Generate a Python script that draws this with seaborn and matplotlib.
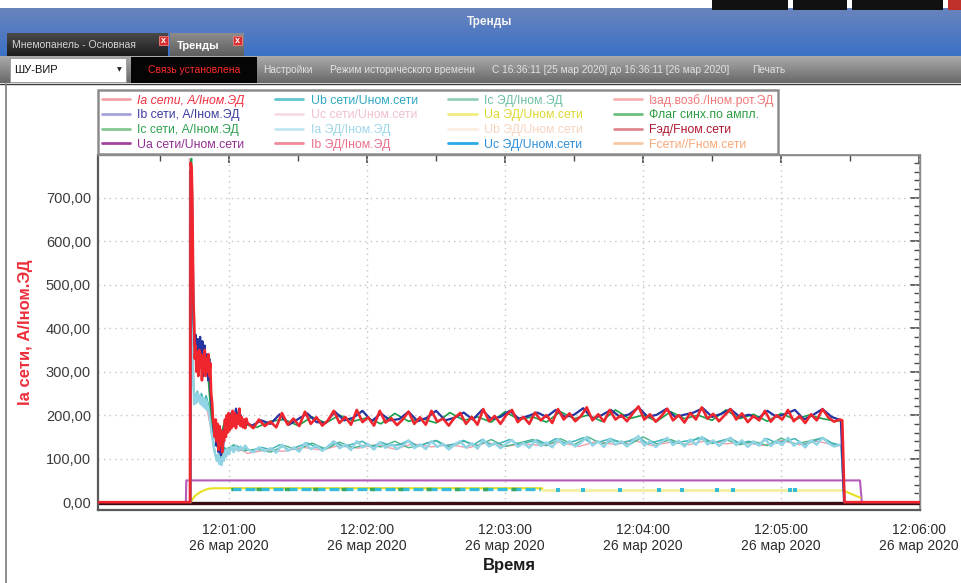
import datetime as dt
import numpy as np
import pandas as pd
import matplotlib
matplotlib.use("Agg")
import matplotlib.pyplot as plt
import matplotlib.colors as mcolors
from matplotlib.lines import Line2D
from matplotlib.patches import Rectangle
from matplotlib.ticker import MultipleLocator, FuncFormatter
import seaborn as sns


# ---------------------------------------------------------------------
# Data (time in seconds after 12:00:00, 26 Mar 2020)
# ---------------------------------------------------------------------
TREND_START = dt.datetime(2020, 3, 26, 12, 0, 0)
MONTHS_RU = ["янв", "фев", "мар", "апр", "мая", "июн",
             "июл", "авг", "сен", "окт", "ноя", "дек"]

# sample grids used by the recorder for the steady part of the run
GRID_A_START, GRID_A_STEP = 68.0, 2.5
GRID_B_START, GRID_B_STEP = 66.0, 4.0
GRID_C_START, GRID_C_STEP = 66.0, 6.0
GRID_D_START, GRID_D_STEP = 68.0, 8.0

# Ia сети (red) -------------------------------------------------------
IA_NET_RISE = [(3.0, 0), (43.1, 0), (43.3, 780), (43.7, 770), (44.0, 700), (44.3, 560),
               (44.5, 460), (44.8, 420), (45.1, 330), (45.4, 360), (45.8, 300), (46.2, 345),
               (46.6, 290), (47.0, 350), (47.4, 310), (47.8, 340), (48.2, 280), (48.6, 335),
               (49.0, 300), (49.4, 350), (49.8, 290), (50.2, 330), (50.6, 300), (51.0, 340),
               (51.4, 290), (51.8, 320), (52.2, 250), (52.6, 230), (53.0, 190), (53.4, 175),
               (53.8, 150), (54.2, 190), (54.6, 140), (55.0, 180), (55.4, 120), (55.8, 175),
               (56.2, 130), (56.6, 165), (57.0, 115), (57.4, 160), (57.8, 140), (58.2, 190),
               (58.6, 150), (59.0, 200), (59.4, 160), (59.8, 205), (60.2, 165), (60.6, 200),
               (61.0, 170), (61.5, 210), (62.0, 175), (62.5, 205), (63.0, 170), (63.5, 200),
               (64.0, 180), (64.5, 215), (65.0, 175), (65.5, 195), (66.0, 172), (66.5, 190),
               (67.0, 170), (67.5, 192)]
IA_NET_PLAT = [182, 170, 190, 175, 185, 172, 205, 178, 192, 175,
               208, 180, 195, 176, 188, 210, 182, 196, 178, 212,
               184, 195, 176, 210, 183, 193, 177, 190, 208, 180,
               195, 178, 210, 185, 192, 176, 194, 205, 180, 196,
               178, 214, 186, 198, 180, 200, 212, 184, 196, 180,
               206, 188, 200, 182, 214, 190, 204, 186, 198, 218,
               188, 202, 185, 212, 190, 200, 186, 204, 220, 190,
               202, 185, 198, 215, 188, 200, 183, 205, 190, 218,
               192, 203, 186, 200, 214, 190, 204, 184, 198, 188,
               210, 185, 200, 190, 212, 186, 198, 182, 202, 188,
               214, 195, 185, 190]
IA_NET_END = [(326.6, 188), (327.6, 0), (360.5, 0)]

# Ib сети (dark blue) -------------------------------------------------
IB_NET_RISE = [(43.1, 0), (43.3, 760), (43.8, 740), (44.2, 560), (44.6, 420), (45.0, 360),
               (45.4, 385), (45.9, 320), (46.4, 375), (46.9, 300), (47.4, 380), (47.9, 320),
               (48.4, 370), (48.9, 290), (49.4, 360), (49.9, 300), (50.4, 340), (50.9, 280),
               (51.4, 330), (51.9, 260), (52.4, 220), (52.9, 200), (53.4, 160), (53.9, 180),
               (54.4, 130), (54.9, 160), (55.4, 115), (55.9, 150), (56.4, 108), (56.9, 140),
               (57.4, 125), (57.9, 170), (58.5, 150), (59.2, 195), (60.0, 170), (61.0, 205),
               (62.0, 180), (63.0, 215), (64.0, 185), (65.0, 200)]
IB_NET_PLAT = [186, 176, 188, 180, 202, 178, 191, 204, 184, 182,
               208, 188, 194, 210, 186, 204, 188, 191, 208, 186,
               194, 210, 188, 194, 206, 190, 212, 191, 196, 210,
               192, 198, 206, 196, 212, 196, 201, 216, 192, 200,
               212, 196, 202, 218, 196, 201, 214, 196, 201, 206,
               216, 196, 203, 214, 196, 201, 192, 210, 196, 203,
               212, 190, 201, 214, 196, 188]
IB_NET_END = [(327.4, 0)]

# Ic сети (green) -----------------------------------------------------
IC_NET_RISE = [(43.1, 0), (43.3, 785), (43.7, 790), (44.2, 480), (44.7, 380), (45.3, 330),
               (46.0, 350), (47.0, 310), (48.0, 345), (49.0, 300), (50.0, 330), (51.0, 280),
               (52.0, 210), (53.0, 170), (54.0, 150), (55.0, 125), (56.0, 140), (57.0, 165),
               (58.0, 185), (59.0, 175), (60.0, 200), (62.0, 190), (64.0, 205)]
IC_NET_PLAT = [180, 172, 186, 190, 176, 196, 182, 200, 186, 194,
               180, 204, 186, 192, 182, 206, 188, 196, 184, 208,
               190, 196, 184, 208, 192, 200, 186, 212, 192, 200,
               186, 208, 192, 200, 188, 212, 192, 202, 186, 204,
               190, 200, 192, 186]
IC_NET_END = [(326.5, 188), (327.4, 0)]

# Ia ЭД (light cyan) --------------------------------------------------
IA_ED_RISE = [(43.2, 0), (43.4, 455), (43.9, 440), (44.3, 300), (44.8, 225), (45.2, 245),
              (45.7, 228), (46.2, 250), (46.7, 232), (47.2, 245), (47.7, 225), (48.2, 240),
              (48.7, 220), (49.2, 238), (49.7, 215), (50.2, 232), (50.7, 210), (51.2, 220),
              (51.7, 190), (52.2, 170), (52.7, 150), (53.2, 130), (53.7, 115), (54.2, 105),
              (54.7, 95), (55.2, 110), (55.7, 88), (56.2, 100), (56.7, 85), (57.2, 105),
              (57.7, 95), (58.2, 115), (58.7, 105), (59.2, 122), (60.0, 110), (61.0, 128),
              (62.0, 115), (63.0, 130), (64.0, 118), (65.0, 128), (66.0, 120), (67.0, 130)]
IA_ED_PLAT = [122, 115, 126, 117, 124, 114, 132, 118, 126, 116,
              136, 122, 130, 118, 128, 140, 124, 132, 120, 140,
              126, 133, 121, 138, 125, 134, 122, 130, 142, 124,
              133, 122, 140, 127, 134, 121, 132, 140, 125, 135,
              123, 144, 128, 136, 124, 134, 143, 127, 136, 125,
              141, 129, 137, 126, 145, 131, 140, 128, 137, 150,
              130, 140, 127, 146, 132, 140, 128, 141, 152, 130,
              140, 127, 138, 148, 131, 141, 128, 144, 132, 150,
              133, 142, 129, 140, 148, 131, 142, 127, 139, 130,
              146, 129, 140, 131, 148, 130, 139, 126, 142, 132,
              148, 136, 128, 132]
IA_ED_END = [(326.6, 130), (327.6, 0)]

# Ub сети (teal) ------------------------------------------------------
UB_NET_RISE = [(43.2, 0), (43.4, 450), (44.0, 420), (44.6, 260), (45.3, 240), (46.2, 255),
               (47.1, 238), (48.0, 250), (49.0, 230), (50.0, 245), (51.0, 225), (52.0, 180),
               (53.0, 140), (54.0, 110), (55.0, 105), (56.0, 95), (57.0, 112), (58.0, 125),
               (60.0, 118), (62.0, 130), (64.0, 125)]
UB_NET_PLAT = [124, 118, 126, 121, 132, 120, 128, 136, 126, 123,
               138, 128, 134, 140, 126, 138, 130, 132, 142, 128,
               136, 141, 129, 134, 142, 131, 144, 131, 136, 144,
               132, 138, 143, 134, 146, 136, 140, 148, 133, 140,
               146, 136, 141, 150, 134, 140, 146, 135, 140, 143,
               149, 136, 141, 147, 135, 140, 132, 146, 136, 141,
               146, 132, 140, 148, 136, 131]
UB_NET_END = [(327.4, 0)]

# Ic ЭД (sea green) ---------------------------------------------------
IC_ED_RISE = [(43.3, 0), (43.5, 440), (44.3, 280), (45.2, 240), (47.0, 245), (49.0, 235),
              (51.0, 225), (52.2, 175), (54.0, 108), (56.0, 100), (58.0, 122), (60.0, 125),
              (62.0, 132), (64.0, 128)]
IC_ED_PLAT = [118, 122, 115, 130, 120, 136, 122, 138, 125, 132,
              127, 140, 125, 132, 142, 126, 140, 130, 144, 128,
              136, 144, 130, 146, 132, 150, 134, 142, 132, 150,
              134, 144, 132, 148, 135, 144, 132, 140, 130, 147,
              134, 140, 148, 130]
IC_ED_END = [(326.5, 132), (327.4, 0)]

# Ib ЭД (pink) --------------------------------------------------------
IB_ED_RISE = [(42.6, 0), (42.8, 790), (43.4, 600), (44.0, 450), (44.7, 250), (46.0, 240),
              (48.0, 230), (50.0, 225), (52.0, 170), (54.0, 110), (56.0, 100), (58.0, 115),
              (60.0, 120), (62.0, 124), (64.0, 118), (66.0, 120)]
IB_ED_PLAT = [112, 120, 117, 126, 120, 130, 124, 132, 122, 134,
              127, 132, 125, 137, 128, 134, 130, 138, 128, 140,
              132, 142, 130, 138, 132, 142, 134, 138, 130, 142,
              132, 140, 130]
IB_ED_END = [(326.6, 130), (327.5, 0)]

# voltages / flags ----------------------------------------------------
UA_NET = [(41.2, 0), (41.4, 50), (334.3, 50), (335.1, 0), (360.5, 0)]
UA_ED = [(43.4, 0), (44.0, 6), (44.8, 12), (46.0, 18), (47.5, 23), (49.0, 27), (50.5, 30),
         (52.0, 31.5), (54.0, 32), (196.0, 32), (196.5, 27), (327.0, 27), (334.5, 10)]
UB_ED = [(196.5, 27), (327.0, 27)]
UC_ED = [(61.0, 31), (195.0, 31)]
UC_ED_DOTS_T = [203, 214, 230, 247, 257, 272, 279, 304, 306]
UC_ED_DOTS_V = [27, 27, 27, 27, 27, 27, 27, 27, 27]
SYNC_FLAG = [(61.0, 31), (195.0, 31)]
F_ED = [(3.0, -2), (360.5, -2)]

# legend (column by column, as in the panel) --------------------------
LEGEND_LABELS = ["Ia сети, А/Iном.ЭД", "Ib сети, А/Iном.ЭД", "Ic сети, А/Iном.ЭД",
                 "Ua сети/Uном.сети", "Ub сети/Uном.сети", "Uc сети/Uном.сети",
                 "Ia ЭД/Iном.ЭД", "Ib ЭД/Iном.ЭД", "Ic ЭД/Iном.ЭД", "Ua ЭД/Uном.сети",
                 "Ub ЭД/Uном.сети", "Uc ЭД/Uном.сети", "Iзад.возб./Iном.рот.ЭД",
                 "Флаг синх.по ампл.", "Fэд/Fном.сети", "Fсети//Fном.сети"]
LEGEND_LINE_COLORS = ["#f4a4aa", "#a4a4d8", "#84c894", "#a044a0", "#62c6d0", "#f8dce2",
                      "#c4e8f0", "#f08a9a", "#92d0b8", "#f0ee80", "#fcefe2", "#2aa8e8",
                      "#f8b2b2", "#70c080", "#e08890", "#f8c8a2"]
LEGEND_TEXT_COLORS = ["#f03040", "#3c3ca0", "#2fa050", "#902e90", "#2ea8c0", "#f0c0cc",
                      "#9ed6e8", "#e87088", "#6cc0a0", "#dcd830", "#f8d4c0", "#2f8ed8",
                      "#f07878", "#2c9c40", "#b01830", "#f8a878"]


# ---------------------------------------------------------------------
# Helpers
# ---------------------------------------------------------------------
W, H = 961, 583


def build_series(rise, plat, start, step, end):
    t = [p[0] for p in rise] + [start + step * i for i in range(len(plat))] + [p[0] for p in end]
    v = [p[1] for p in rise] + list(plat) + [p[1] for p in end]
    return t, v


def draw_series(ax, t, v, color, lw, z, **kw):
    df = pd.DataFrame({"t": t, "v": v})
    sns.lineplot(data=df, x="t", y="v", ax=ax, color=color, linewidth=lw,
                 estimator=None, legend=False, zorder=z, **kw)


def draw_pairs(ax, pairs, color, lw, z, **kw):
    draw_series(ax, [p[0] for p in pairs], [p[1] for p in pairs], color, lw, z, **kw)


def time_label(x, pos):
    stamp = TREND_START + dt.timedelta(seconds=float(x))
    return f"{stamp:%H:%M:%S}\n{stamp.day} {MONTHS_RU[stamp.month - 1]} {stamp.year}"


def value_label(y, pos):
    return f"{y:.2f}".replace(".", ",")


# ---------------------------------------------------------------------
# Window chrome (title bar, tabs, toolbar)
# ---------------------------------------------------------------------
def draw_window_chrome(fig):
    ui = fig.add_axes([0, 0, 1, 1], zorder=0)

    def grad(x0, x1, y0, y1, top, bottom):
        c0 = np.array(mcolors.to_rgb(top))
        c1 = np.array(mcolors.to_rgb(bottom))
        k = np.linspace(0, 1, 64)[:, None, None]
        img = c0 + (c1 - c0) * k
        ui.imshow(img, extent=[x0, x1, y1, y0], aspect="auto", interpolation="bilinear", zorder=1)

    def close_btn(x, y):
        ui.add_patch(Rectangle((x, y), 9, 9, fc="#d83030", ec="#f08080", lw=0.6, zorder=3))
        ui.text(x + 4.5, y + 4.3, "x", color="white", fontsize=6.5, fontweight="bold",
                ha="center", va="center", zorder=4)

    grad(0, W, 8, 56, "#6a84bd", "#3b71c6")
    for x0, w in [(712, 76), (793, 54), (852, 91)]:
        ui.add_patch(Rectangle((x0, 0), w, 10, fc="#111111", ec="none", zorder=2))
    ui.add_patch(Rectangle((948, 0), 13, 10, fc="#c0302a", ec="none", zorder=2))
    ui.text(490, 22, "Тренды", color="#f4f4f4", fontsize=8.5, fontweight="bold",
            ha="center", va="center", zorder=3)

    # tabs
    grad(7, 168, 33, 56, "#4a4a4a", "#1c1c1c")
    ui.text(12, 45, "Мнемопанель - Основная", color="#d4d4d4", fontsize=7.5,
            ha="left", va="center", zorder=3)
    close_btn(159, 36)
    grad(170, 244, 33, 56, "#8c8c8c", "#5e5e5e")
    ui.text(177, 46, "Тренды", color="white", fontsize=8, fontweight="bold",
            ha="left", va="center", zorder=3)
    close_btn(233, 36)

    # toolbar
    grad(0, W, 56, 83, "#ababab", "#686868")
    ui.add_patch(Rectangle((10, 58), 116, 24, fc="white", ec="#9a9a9a", lw=0.6, zorder=3))
    ui.text(14, 70, "ШУ-ВИР", color="#101010", fontsize=8, ha="left", va="center", zorder=4)
    ui.text(119, 70, "▼", family=["DejaVu Sans"], color="#202020", fontsize=4.5,
            ha="center", va="center", zorder=4)
    ui.add_patch(Rectangle((131, 57), 126, 26, fc="#050505", ec="none", zorder=3))
    ui.text(194, 70, "Связь установлена", color="#ff2a2a", fontsize=7.5,
            ha="center", va="center", zorder=4)
    for x, s in [(263, "Настройки"), (330, "Режим исторического времени"),
                 (492, "С 16:36:11 [25 мар 2020] до 16:36:11 [26 мар 2020]"), (752, "Печать")]:
        ui.text(x, 70, s, color="#e2e2e2", fontsize=7.3, ha="left", va="center", zorder=4)
    ui.plot([0, W], [83.5, 83.5], color="#3a3a3a", lw=1, zorder=4)
    ui.plot([6, 6], [84, H], color="#7a7a7a", lw=1.2, zorder=4)

    ui.set_xlim(0, W)
    ui.set_ylim(H, 0)
    ui.axis("off")


# ---------------------------------------------------------------------
# Trend traces
# ---------------------------------------------------------------------
def draw_traces(ax):
    draw_pairs(ax, F_ED, "#3a0c12", 2.4, 2)
    draw_pairs(ax, UA_NET, "#b45ab8", 1.5, 3)
    draw_pairs(ax, UA_ED, "#e6e020", 1.5, 4)
    draw_pairs(ax, UB_ED, "#f4f0a8", 2.2, 4.5)
    draw_pairs(ax, UC_ED, "#34bcd8", 2.4, 5, linestyle=(0, (3, 1.2)))
    draw_pairs(ax, SYNC_FLAG, "#3aa860", 2.4, 5.5, linestyle=(1, (1.5, 7)))
    sns.scatterplot(x=UC_ED_DOTS_T, y=UC_ED_DOTS_V, ax=ax, color="#34bcd8", s=5,
                    marker="s", linewidth=0, zorder=5.6, legend=False)

    draw_series(ax, *build_series(IB_ED_RISE, IB_ED_PLAT, GRID_D_START, GRID_D_STEP, IB_ED_END),
                "#f0a0ae", 1.0, 6)
    draw_series(ax, *build_series(IC_ED_RISE, IC_ED_PLAT, GRID_C_START, GRID_C_STEP, IC_ED_END),
                "#48b488", 1.0, 6.5)
    draw_series(ax, *build_series(UB_NET_RISE, UB_NET_PLAT, GRID_B_START, GRID_B_STEP, UB_NET_END),
                "#40b4b8", 1.1, 7)
    draw_series(ax, *build_series(IA_ED_RISE, IA_ED_PLAT, GRID_A_START, GRID_A_STEP, IA_ED_END),
                "#92d4e4", 1.8, 7.5)

    draw_series(ax, *build_series(IC_NET_RISE, IC_NET_PLAT, GRID_C_START, GRID_C_STEP, IC_NET_END),
                "#18a048", 1.2, 8)
    draw_series(ax, *build_series(IB_NET_RISE, IB_NET_PLAT, GRID_B_START, GRID_B_STEP, IB_NET_END),
                "#2434a0", 1.6, 9)
    draw_series(ax, *build_series(IA_NET_RISE, IA_NET_PLAT, GRID_A_START, GRID_A_STEP, IA_NET_END),
                "#f0262e", 1.9, 10)


# ---------------------------------------------------------------------
# Axes styling
# ---------------------------------------------------------------------
def style_axes(ax):
    ax.set_xlim(3, 360.4)
    ax.set_ylim(-18, 798)
    ax.set_facecolor("white")
    ax.set_axisbelow(True)

    ax.xaxis.set_major_locator(MultipleLocator(60))
    ax.xaxis.set_minor_locator(MultipleLocator(30))
    ax.yaxis.set_major_locator(MultipleLocator(100))
    ax.yaxis.set_minor_locator(MultipleLocator(20))
    ax.xaxis.set_major_formatter(FuncFormatter(time_label))
    ax.yaxis.set_major_formatter(FuncFormatter(value_label))

    ax.grid(True, which="major", color="#c4c4c4", linestyle=(0, (1, 3)), linewidth=1.0)
    ax.tick_params(which="major", direction="inout", length=8, width=1.2, color="#4a4a4a")
    ax.tick_params(which="minor", direction="inout", length=5, width=1.0, color="#4a4a4a")
    ax.tick_params(axis="y", labelsize=10.5, labelcolor="#3c3c3c", pad=1)
    ax.tick_params(axis="x", labelsize=10, labelcolor="#2c2c2c", pad=5)
    for lab in ax.get_xticklabels():
        lab.set_linespacing(1.2)

    for side in ["left", "bottom"]:
        ax.spines[side].set_color("#5a5a5a")
        ax.spines[side].set_linewidth(1.6)
    for side in ["top", "right"]:
        ax.spines[side].set_color("#8a8a8a")
        ax.spines[side].set_linewidth(1.0)

    top = ax.secondary_xaxis("top")
    top.xaxis.set_major_locator(MultipleLocator(60))
    top.xaxis.set_minor_locator(MultipleLocator(30))
    top.tick_params(which="major", direction="in", length=6, width=1.2, color="#4a4a4a", labeltop=False)
    top.tick_params(which="minor", direction="in", length=4, width=1.0, color="#4a4a4a")
    top.spines["top"].set_color("#8a8a8a")

    right = ax.secondary_yaxis("right")
    right.yaxis.set_major_locator(MultipleLocator(100))
    right.yaxis.set_minor_locator(MultipleLocator(20))
    right.tick_params(which="major", direction="in", length=7, width=1.2, color="#4a4a4a", labelright=False)
    right.tick_params(which="minor", direction="in", length=4, width=1.0, color="#4a4a4a")
    right.spines["right"].set_color("#8a8a8a")

    ax.set_ylabel("Ia сети, А/Iном.ЭД", color="#ec2f3a", fontsize=12, fontweight="bold", labelpad=9)
    ax.set_xlabel("Время", color="#1c1c1c", fontsize=12, fontweight="bold", labelpad=4)


def add_legend(fig):
    handles = [Line2D([], [], color=c, lw=2) for c in LEGEND_LINE_COLORS]
    leg = fig.legend(handles, LEGEND_LABELS, ncol=4, mode="expand", loc="upper left",
                     bbox_to_anchor=(98 / W, (H - 150) / H, 680 / W, 60 / H),
                     fontsize=8.8, handlelength=2.3, handletextpad=0.6, labelspacing=0.22,
                     borderpad=0.3, borderaxespad=0, columnspacing=0.5,
                     frameon=True, fancybox=False, framealpha=1)
    leg.get_frame().set_edgecolor("#8c8c8c")
    leg.get_frame().set_linewidth(1.8)
    for text, c in zip(leg.get_texts(), LEGEND_TEXT_COLORS):
        text.set_color(c)
    leg.get_texts()[0].set_style("italic")


# ---------------------------------------------------------------------
# Main Function
# ---------------------------------------------------------------------
def main():
    sns.set_theme(style="white")
    plt.rcParams["font.family"] = ["Liberation Sans", "DejaVu Sans"]

    fig = plt.figure(figsize=(W / 100, H / 100), dpi=100)
    fig.patch.set_facecolor("white")
    draw_window_chrome(fig)

    ax = fig.add_axes([98 / W, (H - 510) / H, (920 - 98) / W, (510 - 155) / H], zorder=2)
    draw_traces(ax)
    style_axes(ax)
    add_legend(fig)

    fig.savefig("out.png", dpi=100)
    plt.close(fig)


if __name__ == "__main__":
    main()
